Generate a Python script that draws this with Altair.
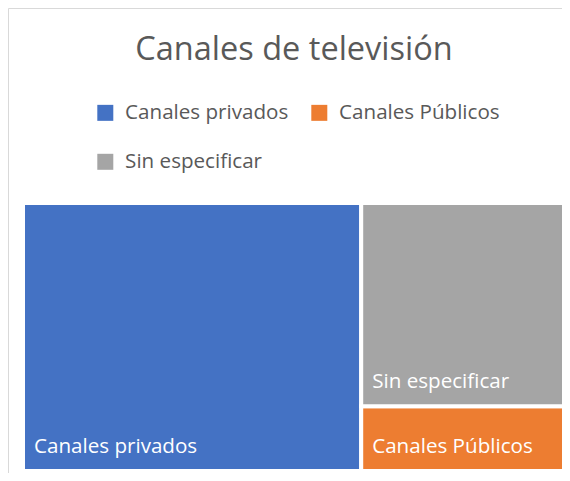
import altair as alt
import pandas as pd

# ---- data ----
categories = ["Canales privados", "Canales Públicos", "Sin especificar"]
values = [62.4, 9.1, 28.5]
colors = ["#4472C4", "#ED7D31", "#A5A5A5"]
title_text = "Canales de televisión"

# ---- treemap layout (slice for the first item, dice for the rest) ----
total = sum(values)
rest = total - values[0]
split = values[0] / total * 100
rows = [dict(cat=categories[0], x0=0.0, x1=split, y0=0.0, y1=100.0)]
acc = 0.0
for c, v in zip(categories[1:], values[1:]):
    h = v / rest * 100
    rows.append(dict(cat=c, x0=split, x1=100.0, y0=acc, y1=acc + h))
    acc += h
df = pd.DataFrame(rows)

W, H = 539, 268
FONT = "Open Sans"
xs = alt.Scale(domain=[0, 100], range=[0, 542], nice=False, zero=False)
ys = alt.Scale(domain=[0, 100], range=[H, 0], nice=False, zero=False)

rects = alt.Chart(df).mark_rect(stroke="white", strokeWidth=4).encode(
    x=alt.X("x0:Q", scale=xs, axis=None),
    x2="x1:Q",
    y=alt.Y("y0:Q", scale=ys, axis=None),
    y2="y1:Q",
    color=alt.Color(
        "cat:N",
        scale=alt.Scale(domain=categories, range=colors),
        legend=alt.Legend(
            orient="none", direction="horizontal", legendX=72, legendY=-100.5,
            columns=2, columnPadding=20, rowPadding=28, symbolType="square",
            symbolSize=256, symbolStrokeWidth=0, labelFont=FONT,
            labelFontSize=20.6, labelColor="#595959", labelOffset=9.5,
            title=None, padding=0, labelLimit=0,
        ),
    ),
    tooltip=["cat:N"],
)

labels = alt.Chart(df).mark_text(
    align="left", baseline="alphabetic", dx=11, dy=-18,
    font=FONT, fontSize=20.6, color="white",
).encode(
    x=alt.X("x0:Q", scale=xs, axis=None),
    y=alt.Y("y0:Q", scale=ys, axis=None),
    text="cat:N",
)

frame_left = alt.Chart(alt.Data(values=[{}])).mark_rule(color="#D9D9D9", strokeWidth=1).encode(
    x=alt.value(-14.5), y=alt.value(-194.5), y2=alt.value(275)
)
frame_top = alt.Chart(alt.Data(values=[{}])).mark_rule(color="#D9D9D9", strokeWidth=1).encode(
    x=alt.value(-14.5), x2=alt.value(545), y=alt.value(-194.5)
)

chart = alt.layer(frame_left, frame_top, rects, labels).properties(
    width=W, height=H,
    padding={"left": 15, "top": 195, "right": 0, "bottom": 2},
    autosize=alt.AutoSizeParams(type="none"),
    title=alt.TitleParams(
        text=title_text, font=FONT, fontSize=32.5, fontWeight="normal",
        color="#595959", anchor="middle", frame="group",
        baseline="alphabetic", offset=-84, dx=1.5,
    ),
    background="white",
).configure_view(stroke=None)

chart.save("out.html", embed_options={"renderer": "svg", "actions": False})
